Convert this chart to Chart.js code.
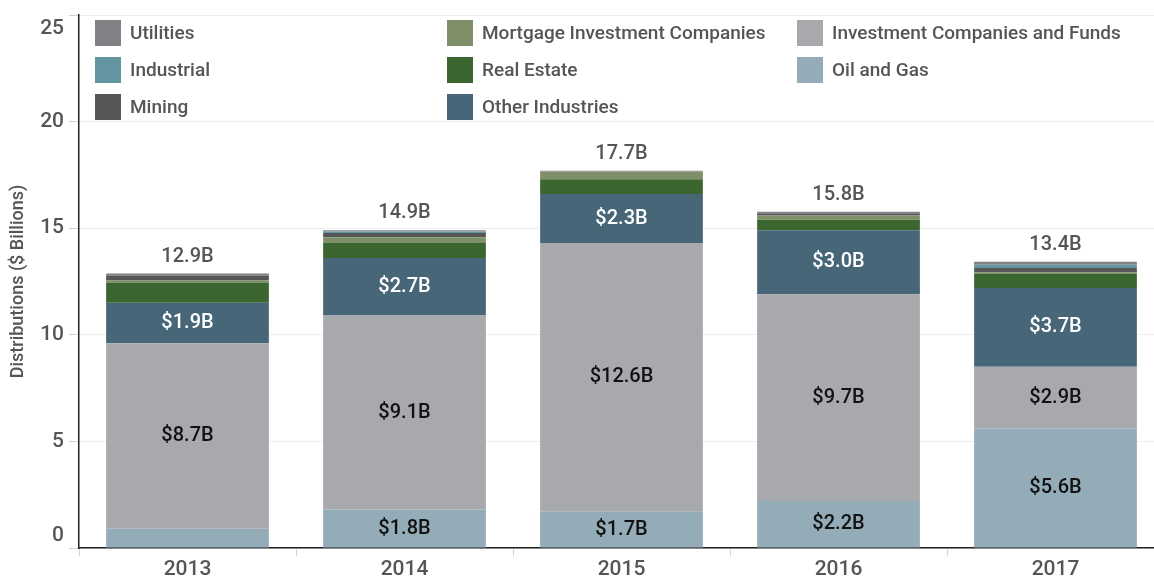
<!DOCTYPE html>
<html>
<head>
<meta charset="utf-8">
<script src="https://cdn.jsdelivr.net/npm/chart.js@4.4.1/dist/chart.umd.min.js"></script>
<style>
    html, body { margin: 0; padding: 0; background: #fff; overflow: hidden; }
    #wrap { position: relative; width: 1164px; height: 576px; }
    #legend { position: absolute; left: 0; top: 0; font-family: Roboto, sans-serif; font-size: 19px; font-weight: 500; color: #555; }
    .item { position: absolute; height: 26px; line-height: 26px; white-space: nowrap; }
    .item span { display: inline-block; width: 26px; height: 26px; vertical-align: top; margin-right: 9px; }
</style>
</head>
<body>
<div id="wrap">
    <canvas id="chart" width="1164" height="576"></canvas>
    <div id="legend"></div>
</div>
<script>
// categories and series values ($ billions), stacked bottom to top
const years = ['2013', '2014', '2015', '2016', '2017'];
const oilGas = [0.9, 1.8, 1.7, 2.2, 5.6];
const investFunds = [8.7, 9.1, 12.6, 9.7, 2.9];
const otherIndustries = [1.9, 2.7, 2.3, 3.0, 3.7];
const realEstate = [0.95, 0.7, 0.7, 0.5, 0.65];
const mortgageInv = [0.1, 0.28, 0.36, 0.19, 0.08];
const mining = [0.22, 0.2, 0, 0.08, 0.2];
const industrial = [0, 0.07, 0, 0, 0.15];
const utilities = [0.1, 0.05, 0.04, 0.1, 0.15];
const yTicks = [0, 5, 10, 15, 20, 25];

// series: stack order
const series = [
    { label: 'Oil and Gas', data: oilGas, color: '#94acb8', text: '#111' },
    { label: 'Investment Companies and Funds', data: investFunds, color: '#a8a9ad', text: '#111' },
    { label: 'Other Industries', data: otherIndustries, color: '#476677', text: '#fff' },
    { label: 'Real Estate', data: realEstate, color: '#3c6630' },
    { label: 'Mortgage Investment Companies', data: mortgageInv, color: '#7f9068' },
    { label: 'Mining', data: mining, color: '#555658' },
    { label: 'Industrial', data: industrial, color: '#6496a2' },
    { label: 'Utilities', data: utilities, color: '#818185' }
];

// legend grid (row-major, 3 columns)
const legendOrder = ['Utilities', 'Mortgage Investment Companies', 'Investment Companies and Funds',
    'Industrial', 'Real Estate', 'Oil and Gas', 'Mining', 'Other Industries'];
const legendEl = document.getElementById('legend');
legendOrder.forEach(function(name, i) {
    const s = series.find(x => x.label === name);
    const div = document.createElement('div');
    div.className = 'item';
    div.style.left = [95, 447, 797][i % 3] + 'px';
    div.style.top = (20 + Math.floor(i / 3) * 37) + 'px';
    div.innerHTML = '<span style="background:' + s.color + '"></span>' + name;
    legendEl.appendChild(div);
});

const fmt = v => (Math.round(v * 10) / 10).toFixed(1);

const labelPlugin = {
    id: 'barLabels',
    afterDatasetsDraw(chart) {
        const ctx = chart.ctx;
        const yScale = chart.scales.y;
        ctx.save();
        ctx.textAlign = 'center';
        ctx.textBaseline = 'middle';
        // segment labels
        ctx.font = '500 20px Roboto, sans-serif';
        series.forEach(function(s, di) {
            if (!s.text) return;
            chart.getDatasetMeta(di).data.forEach(function(bar, i) {
                if (s.data[i] < 1) return;
                ctx.fillStyle = s.text;
                ctx.fillText('$' + fmt(s.data[i]) + 'B', bar.x, (bar.y + bar.base) / 2);
            });
        });
        // totals
        ctx.font = '500 20px Roboto, sans-serif';
        ctx.fillStyle = '#555';
        years.forEach(function(y, i) {
            const total = series.reduce((a, s) => a + s.data[i], 0);
            const x = chart.getDatasetMeta(0).data[i].x;
            ctx.fillText(fmt(total) + 'B', x, yScale.getPixelForValue(total) - 17);
        });
        // y tick labels, kept inside the plot height
        ctx.font = '500 21px Roboto, sans-serif';
        ctx.textAlign = 'right';
        yTicks.forEach(function(v) {
            let py = yScale.getPixelForValue(v);
            py = Math.max(yScale.top + 14, Math.min(yScale.bottom - 12, py));
            ctx.fillText(String(v), 64, py);
        });
        ctx.restore();
    }
};

new Chart(document.getElementById('chart').getContext('2d'), {
    type: 'bar',
    data: {
        labels: years,
        datasets: series.map(s => ({
            label: s.label,
            data: s.data,
            backgroundColor: s.color,
            borderWidth: 0,
            categoryPercentage: 1,
            barPercentage: 0.75
        }))
    },
    options: {
        responsive: false,
        animation: false,
        layout: { padding: { top: 14, right: 0, bottom: 0, left: 0 } },
        plugins: {
            legend: { display: false },
            tooltip: { enabled: false }
        },
        scales: {
            x: {
                stacked: true,
                grid: { display: true, drawOnChartArea: false, offset: true, tickLength: 8, color: '#d4d4d4' },
                border: { color: '#222', width: 1.5 },
                ticks: { color: '#555', font: { family: 'Roboto, sans-serif', size: 21, weight: '500' }, padding: 1 },
                afterFit: (scale) => { scale.height = 28; }
            },
            y: {
                stacked: true,
                min: 0,
                max: 25,
                grid: { color: '#eeeeee', tickColor: '#d4d4d4', tickLength: 10 },
                border: { color: '#222', width: 1.5 },
                ticks: { stepSize: 5, color: 'rgba(0,0,0,0)', font: { size: 20 } },
                title: {
                    display: true,
                    text: 'Distributions ($ Billions)',
                    color: '#555',
                    font: { family: 'Roboto, sans-serif', size: 18, weight: '500' },
                    padding: { top: 8, bottom: 0 }
                },
                afterFit: (scale) => { scale.width = 79; }
            }
        }
    },
    plugins: [labelPlugin]
});
</script>
</body>
</html>
